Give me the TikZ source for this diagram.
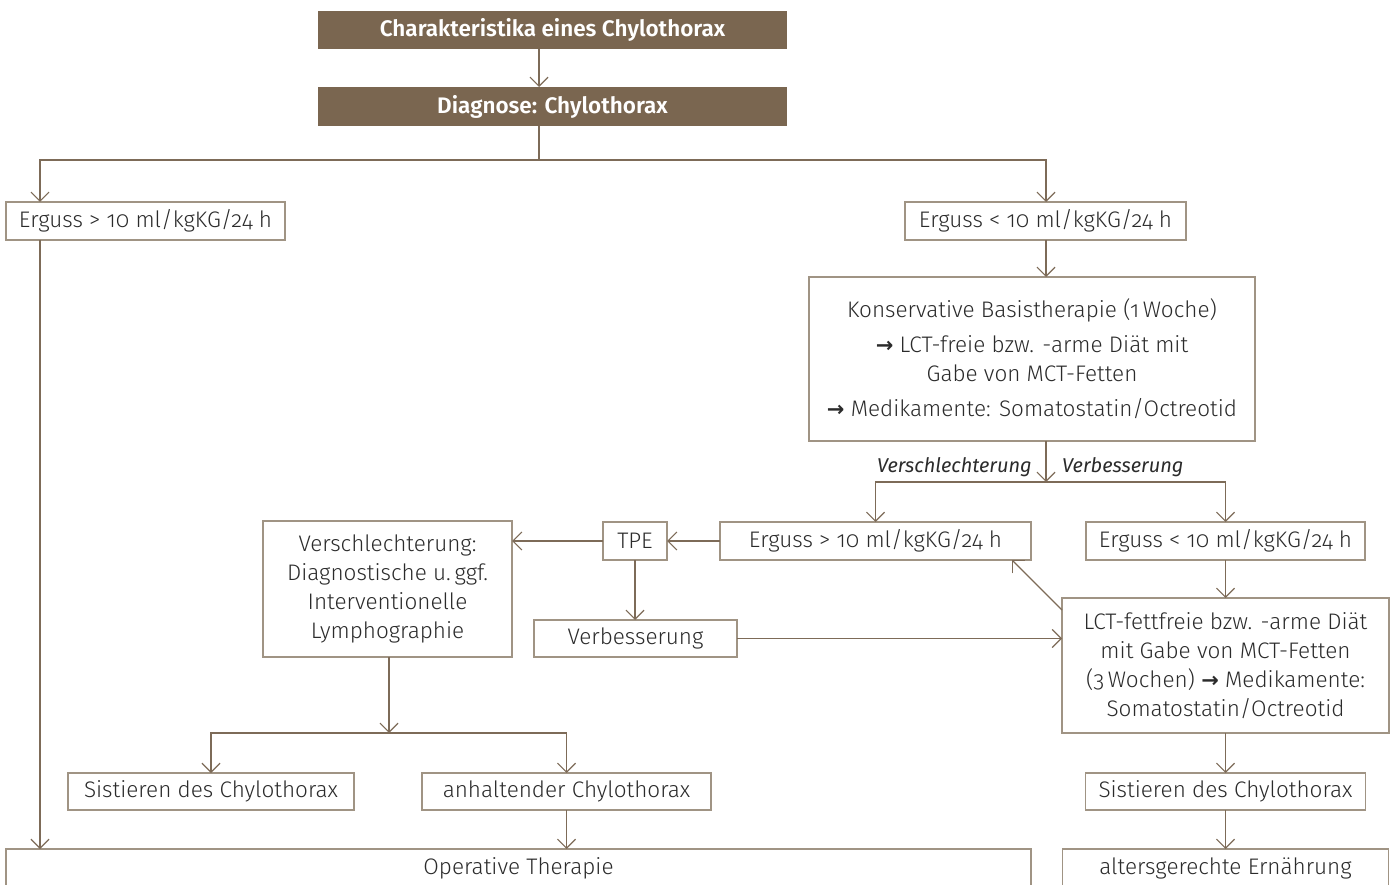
\documentclass[tikz,border=0pt]{standalone}
\usepackage{fontspec}
\setmainfont{Fira Sans}[UprightFont=* Light, ItalicFont=* Italic, BoldFont=* SemiBold, Numbers=OldStyle]
\newfontfamily\arrowfont{DejaVu Sans}
\newcommand\harr{{\arrowfont\bfseries\fontsize{21}{29}\selectfont →}}
\usetikzlibrary{arrows.meta,calc}
\definecolor{brownfill}{HTML}{7A6650}
\definecolor{bordercol}{HTML}{A09484}
\definecolor{linecol}{HTML}{7D6B58}
\definecolor{textcol}{HTML}{2B2B2B}
\tikzset{
  bx/.style={draw=bordercol, line width=1.2pt, fill=white, inner sep=0pt, outer sep=0pt,
    align=center, text=textcol, font=\fontsize{22.5}{29}\selectfont},
  hd/.style={fill=brownfill, inner sep=0pt, outer sep=0pt, text=white,
    font=\fontsize{22.5}{29}\selectfont\bfseries},
  ln/.style={draw=linecol, line width=1.2pt},
  arr/.style={ln, -{Straight Barb[length=9pt,width=18pt,line width=1.2pt]}},
  lbl/.style={inner sep=0pt, text=textcol, font=\fontsize{20}{29}\selectfont\itshape}
}
\begin{document}
\begin{tikzpicture}[x=1pt,y=-1pt]
\useasboundingbox (0,0) rectangle (1395,885);
\clip (0,0) rectangle (1395,885);

% header boxes
\node[hd, minimum width=469pt, minimum height=38pt] (t1) at (552.5,30) {Charakteristika eines Chylothorax};
\node[hd, minimum width=469pt, minimum height=39pt] (t2) at (552.5,106.5) {Diagnose: Chylothorax};

% boxes
\node[bx, minimum width=279pt, minimum height=38pt] (e1) at (145.5,221) {Erguss > 10 ml/kgKG/24 h};
\node[bx, minimum width=281pt, minimum height=38pt] (e2) at (1045.5,221) {Erguss < 10 ml/kgKG/24 h};
\node[bx, minimum width=446pt, minimum height=164pt] (kb) at (1032,359) {Konservative Basistherapie (1\,Woche)\\[6pt]
\harr{} LCT-freie bzw. -arme Diät mit\\ Gabe von MCT-Fetten\\[6pt]
\harr{} Medikamente: Somatostatin/Octreotid};
\node[bx, minimum width=311pt, minimum height=38pt] (e3) at (875.5,541) {Erguss > 10 ml/kgKG/24 h};
\node[bx, minimum width=279pt, minimum height=38pt] (e4) at (1225.5,541) {Erguss < 10 ml/kgKG/24 h};
\node[bx, minimum width=64pt, minimum height=38pt] (tpe) at (635,541) {TPE};
\node[bx, minimum width=249pt, minimum height=136pt] (vs) at (387.5,589) {Verschlechterung:\\ Diagnostische u.\,ggf.\\ Interventionelle\\ Lymphographie};
\node[bx, minimum width=203pt, minimum height=37pt] (vb) at (635.5,638.5) {Verbesserung};
\node[bx, minimum width=327pt, minimum height=135pt] (lct) at (1225.5,665.5) {LCT-fettfreie bzw. -arme Diät\\ mit Gabe von MCT-Fetten\\ (3\,Wochen) \harr{} Medikamente:\\ Somatostatin/Octreotid};
\node[bx, minimum width=286pt, minimum height=37pt] (s1) at (211,791.5) {Sistieren des Chylothorax};
\node[bx, minimum width=289pt, minimum height=37pt] (an) at (566.5,791.5) {anhaltender Chylothorax};
\node[bx, minimum width=280pt, minimum height=37pt] (s2) at (1225.5,791.5) {Sistieren des Chylothorax};
\node[bx, minimum width=1025pt, minimum height=38pt] (op) at (518.5,868) {Operative Therapie};
\node[bx, minimum width=326pt, minimum height=38pt] (alt) at (1225.5,868) {altersgerechte Ernährung};

% labels
\node[lbl, anchor=base east] (lv) at (1032,472) {Verschlechterung};
\node[lbl, anchor=base west] (lb) at (1062,472) {Verbesserung};

% helper coordinates
\coordinate (c1) at (539,0);
\coordinate (b1) at (539,160);
\coordinate (xL) at (40,0);
\coordinate (b2) at (1046,482);
\coordinate (b3) at (389,733);

% connectors
\draw[arr] (t1.south -| c1) -- (t2.north -| c1);
\draw[ln] (t2.south -| b1) -- (b1);
\draw[arr] (b1) -| (e1.north -| xL);
\draw[arr] (b1) -| (e2.north -| b2);
\draw[arr] (e2.south -| b2) -- (kb.north -| b2);
\draw[arr] (kb.south -| b2) -- (b2);
\draw[arr] (b2) -| (e3.north);
\draw[arr] (b2) -| (e4.north);
\draw[arr] (e3.west) -- (tpe.east);
\draw[arr] (tpe.west) -- (vs.east |- tpe.west);
\draw[arr] (tpe.south) -- (vb.north -| tpe.south);
\draw[arr] (vb.east) -- (lct.west |- vb.east);
\draw[arr] (e4.south) -- (lct.north);
\draw[arr] ($(lct.north west)+(0,12)$) -- ($(e3.south east)+(-19,0)$);
\draw[arr] (vs.south -| b3) -- (b3);
\draw[arr] (b3) -| (s1.north);
\draw[arr] (b3) -| (an.north);
\draw[arr] (an.south) -- (op.north -| an.south);
\draw[arr] (e1.south -| xL) -- (op.north -| xL);
\draw[arr] (lct.south) -- (s2.north);
\draw[arr] (s2.south) -- (alt.north);
\end{tikzpicture}
\end{document}
